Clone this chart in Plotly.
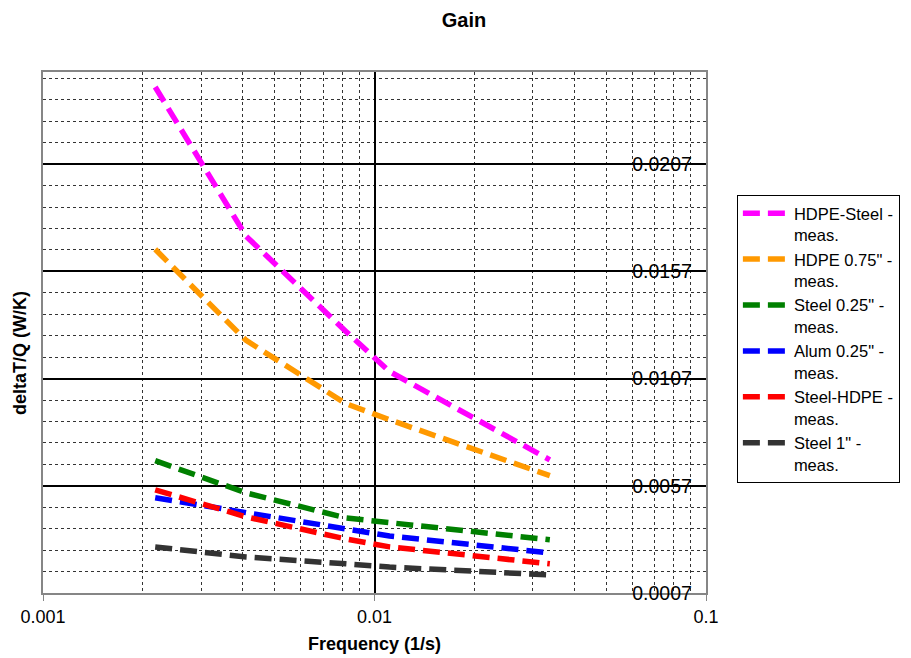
import plotly.graph_objects as go

# Frequency points (1/s)
freq = [0.00218, 0.0041, 0.0082, 0.0111, 0.0338]

# Measured gain deltaT/Q (W/K) for each configuration
hdpe_steel = [0.0243, 0.01734, 0.0129, 0.01103, 0.00691]
hdpe_075 = [0.01673, 0.01248, 0.00953, 0.00878, 0.00617]
steel_025 = [0.00687, 0.00537, 0.0042, 0.00397, 0.00318]
alum_025 = [0.00514, 0.00444, 0.00369, 0.00336, 0.00257]
steel_hdpe = [0.00551, 0.00425, 0.00322, 0.00285, 0.00206]
steel_1 = [0.00285, 0.00238, 0.00206, 0.00191, 0.00154]

series_names = [
    "HDPE-Steel -<br>meas.",
    'HDPE 0.75" -<br>meas.',
    'Steel 0.25" -<br>meas.',
    'Alum 0.25" -<br>meas.',
    "Steel-HDPE -<br>meas.",
    'Steel 1" -<br>meas.',
]
series_values = [hdpe_steel, hdpe_075, steel_025, alum_025, steel_hdpe, steel_1]
series_colors = ["#FF00FF", "#FF9900", "#008000", "#0000FF", "#FF0000", "#333333"]

FONT = "Liberation Sans, Arial, sans-serif"

fig = go.Figure()
for name, vals, col in zip(series_names, series_values, series_colors):
    fig.add_trace(go.Scatter(
        x=freq, y=vals, name=name, mode="lines",
        line=dict(color=col, width=5.5, dash="17px,8px"),
    ))

fig.update_layout(
    width=911, height=658,
    margin=dict(l=43, r=204, t=72, b=65),
    paper_bgcolor="white", plot_bgcolor="white",
    font=dict(family=FONT, size=17, color="black"),
    title=dict(text="<b>Gain</b>", x=464 / 911, y=1 - 20 / 658,
               xref="container", yref="container",
               xanchor="center", yanchor="middle",
               font=dict(size=20, family=FONT, color="black")),
    legend=dict(x=1.045, y=0.764, xanchor="left", yanchor="top",
                bordercolor="black", borderwidth=1, bgcolor="white",
                font=dict(size=16.5, family=FONT, color="black"), valign="top",
                itemwidth=46, tracegroupgap=0),
    showlegend=True,
)

fig.update_xaxes(
    type="log", range=[-3, -1],
    tickvals=[0.001, 0.01, 0.1], ticktext=["0.001", "0.01", "0.1"],
    tickfont=dict(size=18, color="black"),
    ticks="outside", ticklen=6, tickcolor="#868686",
    showline=True, mirror=True, linecolor="#868686", linewidth=2,
    showgrid=True, gridcolor="black", gridwidth=1.5,
    minor=dict(tickvals=[k * d for d in (0.001, 0.01) for k in range(2, 10)],
               showgrid=True, gridcolor="#333333", gridwidth=1, griddash="dot",
               ticks=""),
    zeroline=False,
)

fig.update_yaxes(
    range=[0.0007, 0.025], side="right",
    tick0=0.0007, dtick=0.005, tickformat=".4f",
    ticklabelposition="inside", ticklabelstandoff=15, ticklabeloverflow="allow",
    tickfont=dict(size=19.5, color="black"),
    ticks="",
    showline=True, mirror=True, linecolor="#868686", linewidth=2,
    showgrid=True, gridcolor="black", gridwidth=2,
    minor=dict(tick0=0.0007, dtick=0.001, showgrid=True,
               gridcolor="#333333", gridwidth=1, griddash="dot", ticks=""),
    zeroline=False,
)

# Axis titles
fig.add_annotation(text="<b>Frequency (1/s)</b>", xref="paper", yref="paper",
                   x=0.5, y=(593 - 644) / 521, xanchor="center", yanchor="middle",
                   showarrow=False, font=dict(size=18, family=FONT, color="black"))
fig.add_annotation(text="<b>deltaT/Q (W/K)</b>", xref="paper", yref="paper",
                   x=(20 - 43) / 664, y=(593 - 353) / 521, xanchor="center",
                   yanchor="middle", textangle=-90, showarrow=False,
                   font=dict(size=18, family=FONT, color="black"))

fig.write_html("out.html")
